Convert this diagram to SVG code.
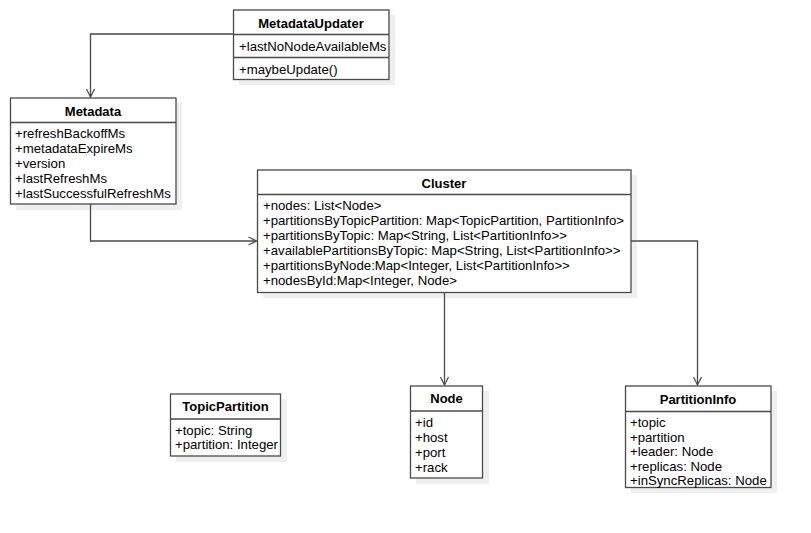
<svg xmlns="http://www.w3.org/2000/svg" width="811" height="533" viewBox="0 0 811 533">
<defs>
<style>
.box{fill:#ffffff;stroke:#4a4a4a;stroke-width:1.3}
.sh{fill:#efefef;stroke:none}
.sep{stroke:#4a4a4a;stroke-width:1.3}
.t{font-family:"Liberation Sans",Arial,sans-serif;font-size:13.2px;fill:#000}
.b{font-family:"Liberation Sans",Arial,sans-serif;font-size:13px;font-weight:bold;fill:#000;text-anchor:middle}
.c{fill:none;stroke:#4a4a4a;stroke-width:1.3}
</style>
<marker id="arr" markerWidth="10" markerHeight="10" refX="9" refY="5" orient="auto" markerUnits="userSpaceOnUse">
<path d="M1,1 L9,5 L1,9" fill="none" stroke="#4a4a4a" stroke-width="1.2"/>
</marker>
</defs>
<rect width="811" height="533" fill="#ffffff"/>

<g id="MetadataUpdater">
<rect class="sh" x="239" y="15" width="156" height="70"/>
<rect class="box" x="233.5" y="10" width="155.5" height="69.5"/>
<line class="sep" x1="233.5" y1="34.5" x2="389" y2="34.5"/>
<line class="sep" x1="233.5" y1="57.5" x2="389" y2="57.5"/>
<text class="b" x="311" y="28">MetadataUpdater</text>
<text class="t" x="239" y="50.5">+lastNoNodeAvailableMs</text>
<text class="t" x="239" y="73.5">+maybeUpdate()</text>
</g>

<g id="Metadata">
<rect class="sh" x="16" y="103" width="166" height="107"/>
<rect class="box" x="10.5" y="98" width="165.5" height="106"/>
<line class="sep" x1="10.5" y1="122.5" x2="176" y2="122.5"/>
<text class="b" x="93" y="115.5">Metadata</text>
<text class="t" x="15" y="138">+refreshBackoffMs</text>
<text class="t" x="15" y="153">+metadataExpireMs</text>
<text class="t" x="15" y="168">+version</text>
<text class="t" x="15" y="183">+lastRefreshMs</text>
<text class="t" x="15" y="198">+lastSuccessfulRefreshMs</text>
</g>

<g id="Cluster">
<rect class="sh" x="263" y="175" width="374" height="123"/>
<rect class="box" x="257.5" y="170" width="373.5" height="122.5"/>
<line class="sep" x1="257.5" y1="194.5" x2="631" y2="194.5"/>
<text class="b" x="444" y="187.5">Cluster</text>
<text class="t" x="263" y="210">+nodes: List&lt;Node&gt;</text>
<text class="t" x="263" y="225">+partitionsByTopicPartition: Map&lt;TopicPartition, PartitionInfo&gt;</text>
<text class="t" x="263" y="240">+partitionsByTopic: Map&lt;String, List&lt;PartitionInfo&gt;&gt;</text>
<text class="t" x="263" y="255">+availablePartitionsByTopic: Map&lt;String, List&lt;PartitionInfo&gt;&gt;</text>
<text class="t" x="263" y="270">+partitionsByNode:Map&lt;Integer, List&lt;PartitionInfo&gt;&gt;</text>
<text class="t" x="263" y="285">+nodesById:Map&lt;Integer, Node&gt;</text>
</g>

<g id="TopicPartition">
<rect class="sh" x="176" y="399" width="111" height="63"/>
<rect class="box" x="170.5" y="394" width="110" height="62"/>
<line class="sep" x1="170.5" y1="419" x2="280.5" y2="419"/>
<text class="b" x="225.5" y="411">TopicPartition</text>
<text class="t" x="175" y="434.5">+topic: String</text>
<text class="t" x="175" y="449">+partition: Integer</text>
</g>

<g id="Node">
<rect class="sh" x="416" y="391" width="73" height="93"/>
<rect class="box" x="410.5" y="386" width="72" height="92"/>
<line class="sep" x1="410.5" y1="411" x2="482.5" y2="411"/>
<text class="b" x="446.5" y="403">Node</text>
<text class="t" x="415" y="427">+id</text>
<text class="t" x="415" y="442">+host</text>
<text class="t" x="415" y="457">+port</text>
<text class="t" x="415" y="472">+rack</text>
</g>

<g id="PartitionInfo">
<rect class="sh" x="631" y="391" width="146" height="102"/>
<rect class="box" x="625.5" y="386" width="145.5" height="101.5"/>
<line class="sep" x1="625.5" y1="411.5" x2="771" y2="411.5"/>
<text class="b" x="698" y="403.5">PartitionInfo</text>
<text class="t" x="630" y="427">+topic</text>
<text class="t" x="630" y="441.5">+partition</text>
<text class="t" x="630" y="456">+leader: Node</text>
<text class="t" x="630" y="470.5">+replicas: Node</text>
<text class="t" x="630" y="485">+inSyncReplicas: Node</text>
</g>

<g id="connectors">
<path class="c" d="M233.5,34 H90.5 V97" marker-end="url(#arr)"/>
<path class="c" d="M90.5,204 V241 H256.5" marker-end="url(#arr)"/>
<path class="c" d="M444.5,293 V385" marker-end="url(#arr)"/>
<path class="c" d="M631,241 H697.5 V385" marker-end="url(#arr)"/>
</g>
</svg>
